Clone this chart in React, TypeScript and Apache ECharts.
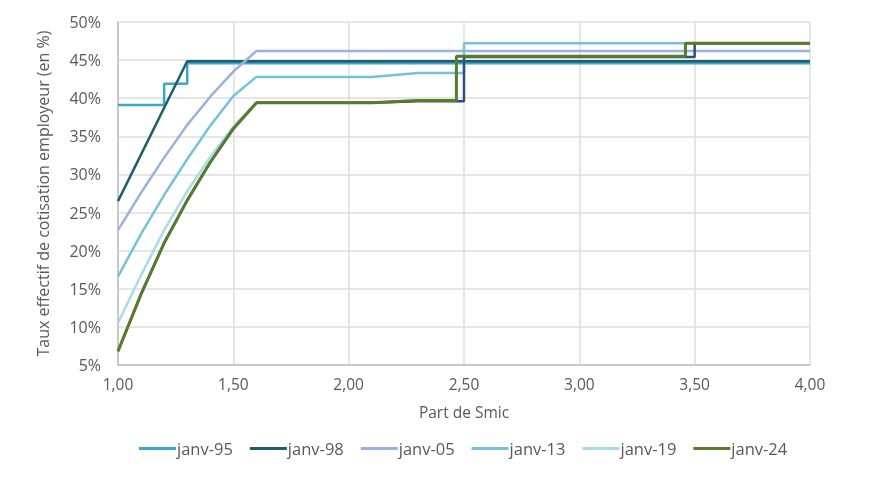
import React, { useEffect, useRef } from "react";
import * as echarts from "echarts";

// Tick settings
const xTicks = { min: 1, max: 4, interval: 0.5 };
const yTicks = { min: 5, max: 50, interval: 5 };

const seriesNames = ["janv-95", "janv-98", "janv-05", "janv-13", "janv-19", "janv-24"];

// [Part de Smic, taux %]
const janv95: [number, number][] = [
  [1.0, 39.1], [1.2, 39.1], [1.2, 41.9], [1.3, 41.9], [1.3, 44.6], [4.0, 44.6],
];
const janv98: [number, number][] = [
  [1.0, 26.5], [1.3, 44.85], [4.0, 44.85],
];
const janv05: [number, number][] = [
  [1.0, 22.7], [1.1, 27.6], [1.2, 32.2], [1.3, 36.5], [1.4, 40.2], [1.5, 43.5], [1.6, 46.2], [4.0, 46.2],
];
const janv13: [number, number][] = [
  [1.0, 16.6], [1.1, 22.2], [1.2, 27.3], [1.3, 32.0], [1.4, 36.4], [1.5, 40.3], [1.6, 42.8],
  [2.1, 42.8], [2.3, 43.3], [2.5, 43.3], [2.5, 47.2], [4.0, 47.2],
];
const janv19: [number, number][] = [
  [1.0, 10.5], [1.1, 16.8], [1.2, 22.7], [1.3, 27.8], [1.4, 32.3], [1.5, 36.3], [1.6, 39.4],
  [2.1, 39.4], [2.3, 39.7], [2.467, 39.7], [2.467, 45.5], [3.46, 45.5], [3.46, 47.2], [4.0, 47.2],
];
// navy line without legend entry (steps exactly at 2,5 and 3,5)
const janv24b: [number, number][] = [
  [1.0, 6.8], [1.1, 14.3], [1.2, 21.0], [1.3, 26.6], [1.4, 31.6], [1.5, 36.0], [1.6, 39.4],
  [2.1, 39.4], [2.3, 39.6], [2.5, 39.6], [2.5, 45.4], [3.5, 45.4], [3.5, 47.2], [4.0, 47.2],
];
const janv24: [number, number][] = [
  [1.0, 6.8], [1.1, 14.3], [1.2, 21.0], [1.3, 26.6], [1.4, 31.6], [1.5, 36.0], [1.6, 39.4],
  [2.1, 39.4], [2.3, 39.7], [2.467, 39.7], [2.467, 45.5], [3.46, 45.5], [3.46, 47.2], [4.0, 47.2],
];

const colors = {
  "janv-95": "#3ca7c3",
  "janv-98": "#1d5d6e",
  "janv-05": "#9bb3dc",
  "janv-13": "#74c3d7",
  "janv-19": "#a9dbe8",
  "janv-24b": "#2c4f82",
  "janv-24": "#5a7a2c",
};

const FONT = "'Open Sans', 'Noto Sans', sans-serif";
const TEXT = "#595959";

export default function App() {
  const ref = useRef<HTMLDivElement>(null);
  useEffect(() => {
    if (!ref.current) return;
    const chart = echarts.init(ref.current, undefined, { renderer: "svg" });
    const mk = (name: string, data: [number, number][], color: string, width: number) => ({
      name,
      type: "line",
      data,
      showSymbol: false,
      symbol: "none",
      lineStyle: { color, width },
      itemStyle: { color },
      emphasis: { disabled: true },
    });
    chart.setOption({
      animation: false,
      textStyle: { fontFamily: FONT },
      grid: { left: 118, right: 77, top: 22, bottom: 126 },
      legend: {
        data: seriesNames,
        top: 435,
        left: 134,
        icon: "rect",
        itemWidth: 37,
        itemHeight: 3,
        itemGap: 17,
        textStyle: { color: TEXT, fontSize: 16.5, fontFamily: FONT, padding: [0, 0, 0, -4] },
      },
      xAxis: {
        type: "value",
        min: xTicks.min,
        max: xTicks.max,
        interval: xTicks.interval,
        name: "Part de Smic",
        nameLocation: "middle",
        nameGap: 39,
        nameTextStyle: { color: TEXT, fontSize: 15.5, fontFamily: FONT },
        axisLine: { show: true, lineStyle: { color: "#bfbfbf", width: 1.5 } },
        axisTick: { show: false },
        splitLine: { show: true, lineStyle: { color: "#dedede", width: 1.5 } },
        axisLabel: {
          color: TEXT,
          fontSize: 15.5,
          margin: 11,
          formatter: (v: number) => v.toFixed(2).replace(".", ","),
        },
      },
      yAxis: {
        type: "value",
        min: yTicks.min,
        max: yTicks.max,
        interval: yTicks.interval,
        name: "Taux effectif de cotisation employeur (en %)",
        nameLocation: "middle",
        nameGap: 67,
        nameTextStyle: { color: TEXT, fontSize: 16, fontFamily: FONT },
        axisLine: { show: true, lineStyle: { color: "#bfbfbf", width: 1.5 } },
        axisTick: { show: false },
        splitLine: { show: true, lineStyle: { color: "#dedede", width: 1.5 } },
        axisLabel: { color: TEXT, fontSize: 16, margin: 17, formatter: "{value}%" },
      },
      series: [
        mk("janv-95", janv95, colors["janv-95"], 2.5),
        mk("janv-98", janv98, colors["janv-98"], 2.5),
        mk("janv-05", janv05, colors["janv-05"], 2.5),
        mk("janv-13", janv13, colors["janv-13"], 2.5),
        mk("janv-19", janv19, colors["janv-19"], 2.5),
        mk("janv-24b", janv24b, colors["janv-24b"], 2.5),
        mk("janv-24", janv24, colors["janv-24"], 3),
      ],
    });
    return () => chart.dispose();
  }, []);
  return (
    <div
      ref={ref}
      style={{ position: "fixed", left: 0, top: 0, width: 887, height: 491 }}
    />
  );
}
